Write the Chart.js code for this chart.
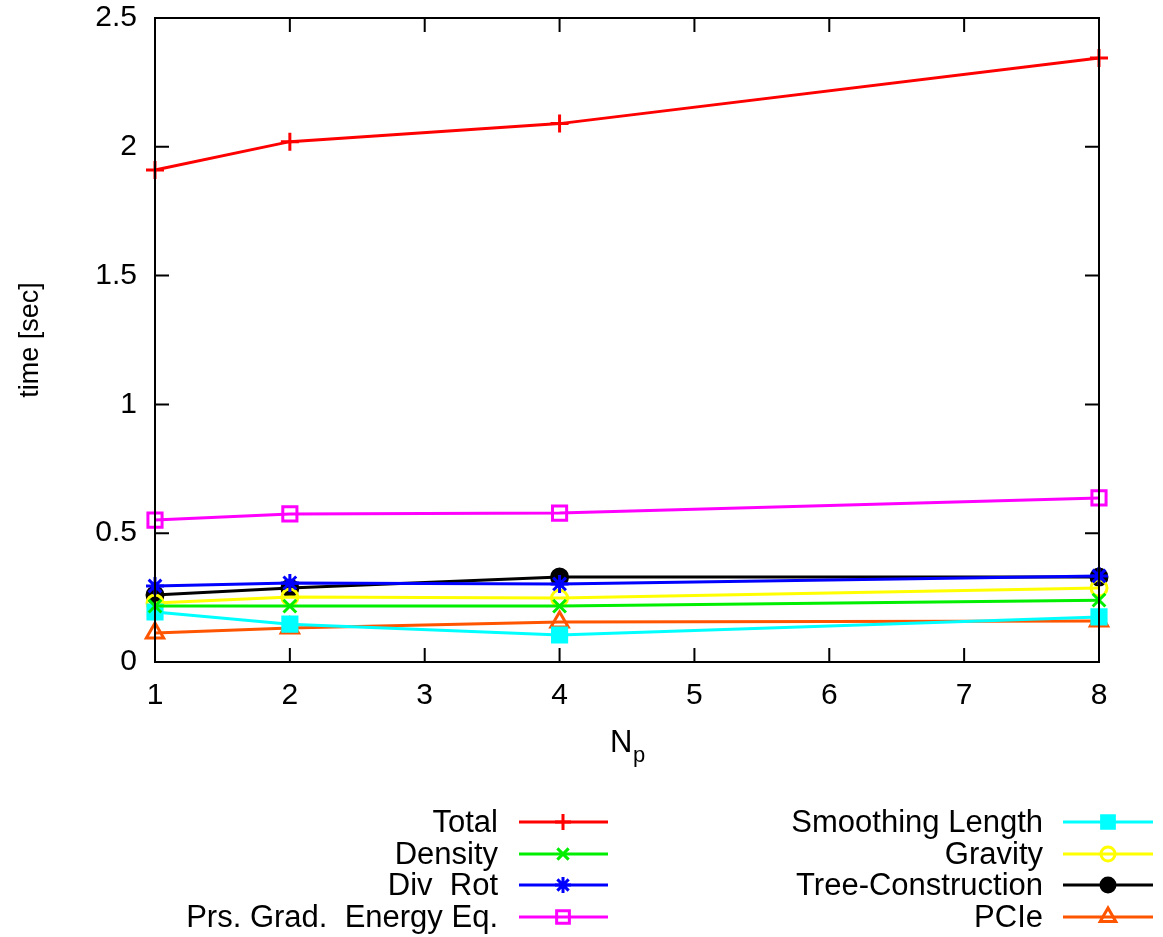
<!DOCTYPE html>
<html>
<head>
<meta charset="utf-8">
<script src="https://cdn.jsdelivr.net/npm/chart.js@4.4.1/dist/chart.umd.min.js"></script>
<style>
  html, body { margin: 0; padding: 0; background: #fff; }
  #wrap { width: 1163px; height: 937px; }
</style>
</head>
<body>
<div id="wrap"><canvas id="chart" width="1163" height="937"></canvas></div>
<script>
// data
const procs = [1, 2, 4, 8];
const xTicks = [1, 2, 3, 4, 5, 6, 7, 8];
const yTicks = [0, 0.5, 1, 1.5, 2, 2.5];

const total      = [1.91, 2.02, 2.09, 2.345];
const density    = [0.217, 0.217, 0.217, 0.24];
const divRot     = [0.295, 0.307, 0.303, 0.334];
const prsGrad    = [0.551, 0.575, 0.578, 0.637];
const smoothing  = [0.194, 0.147, 0.105, 0.175];
const gravity    = [0.229, 0.252, 0.248, 0.287];
const treeBuild  = [0.26, 0.287, 0.33, 0.33];
const pcie       = [0.113, 0.132, 0.155, 0.159];

const FONT = "'Liberation Sans', Arial, Helvetica, sans-serif";

function series(label, values, color, style, fill, radius) {
  return {
    label: label,
    data: procs.map((p, i) => ({ x: p, y: values[i] })),
    borderColor: color,
    backgroundColor: fill,
    borderWidth: 3,
    pointStyle: style,
    pointRadius: radius,
    pointBorderWidth: 3,
    pointBorderColor: color,
    pointBackgroundColor: fill,
    tension: 0
  };
}

const datasets = [
  series("Total", total, "#ff0000", "cross", "#ff0000", 9),
  series("Density", density, "#00ee00", "crossRot", "#00ee00", 9),
  series("Div  Rot", divRot, "#0000ff", "star", "#0000ff", 9),
  series("Prs. Grad.  Energy Eq.", prsGrad, "#ff00ff", "rect", "rgba(0,0,0,0)", 10),
  series("Smoothing Length", smoothing, "#00ffff", "rect", "#00ffff", 10),
  series("Gravity", gravity, "#ffff00", "circle", "rgba(0,0,0,0)", 8),
  series("Tree-Construction", treeBuild, "#000000", "circle", "#000000", 8),
  series("PCIe", pcie, "#ff5500", "triangle", "rgba(0,0,0,0)", 10)
];

// frame, inward ticks on all four sides, N_p label and legend
const decor = {
  id: "decor",
  afterDraw(chart) {
    const ctx = chart.ctx;
    const a = chart.chartArea;
    const xs = chart.scales.x, ys = chart.scales.y;
    ctx.save();
    ctx.strokeStyle = "#000";
    ctx.lineWidth = 2;
    ctx.strokeRect(a.left, a.top, a.right - a.left, a.bottom - a.top);
    ctx.beginPath();
    xTicks.forEach(v => {
      const px = xs.getPixelForValue(v);
      ctx.moveTo(px, a.bottom); ctx.lineTo(px, a.bottom - 14);
      ctx.moveTo(px, a.top); ctx.lineTo(px, a.top + 14);
    });
    yTicks.forEach(v => {
      const py = ys.getPixelForValue(v);
      ctx.moveTo(a.left, py); ctx.lineTo(a.left + 14, py);
      ctx.moveTo(a.right, py); ctx.lineTo(a.right - 14, py);
    });
    ctx.stroke();

    // x title with subscript
    ctx.fillStyle = "#000";
    ctx.textBaseline = "alphabetic";
    ctx.textAlign = "left";
    ctx.font = "31px " + FONT;
    ctx.fillText("N", 610, 752);
    ctx.font = "22px " + FONT;
    ctx.fillText("p", 633, 762);

    // legend, two columns, text right aligned before the sample
    const cols = [
      { textRight: 498, lineL: 519, lineR: 608, mark: 563 },
      { textRight: 1043, lineL: 1063, lineR: 1153, mark: 1108 }
    ];
    const rows = [822, 854, 885, 917];
    ctx.font = "31px " + FONT;
    ctx.textAlign = "right";
    ctx.textBaseline = "middle";
    chart.data.datasets.forEach((ds, i) => {
      const c = cols[Math.floor(i / 4)];
      const y = rows[i % 4];
      ctx.fillStyle = "#000";
      ctx.fillText(ds.label, c.textRight, y + 1);
      ctx.strokeStyle = ds.borderColor;
      ctx.lineWidth = 3;
      ctx.beginPath();
      ctx.moveTo(c.lineL, y); ctx.lineTo(c.lineR, y);
      ctx.stroke();
      ctx.fillStyle = ds.pointBackgroundColor;
      ctx.strokeStyle = ds.borderColor;
      ctx.lineWidth = 3;
      Chart.helpers.drawPoint(ctx, {
        pointStyle: ds.pointStyle, radius: ds.pointRadius - 1, borderWidth: 3, rotation: 0
      }, c.mark, y);
    });
    ctx.restore();
  }
};

new Chart(document.getElementById("chart").getContext("2d"), {
  type: "line",
  data: { datasets: datasets },
  options: {
    responsive: false,
    animation: false,
    clip: false,
    layout: { padding: { left: 0, right: 64, top: 18, bottom: 175 } },
    plugins: { legend: { display: false }, tooltip: { enabled: false } },
    scales: {
      x: {
        type: "linear",
        min: 1, max: 8,
        afterFit: (s) => { s.height = 100; s.paddingLeft = 0; s.paddingRight = 0; },
        afterBuildTicks: (s) => { s.ticks = xTicks.map(v => ({ value: v })); },
        grid: { display: false, drawTicks: false },
        border: { display: false },
        ticks: { color: "#000", padding: 16, font: { family: FONT, size: 30 } }
      },
      y: {
        min: 0, max: 2.5,
        afterFit: (s) => { s.width = 155; s.paddingTop = 0; s.paddingBottom = 0; },
        afterBuildTicks: (s) => { s.ticks = yTicks.map(v => ({ value: v })); },
        grid: { display: false, drawTicks: false },
        border: { display: false },
        ticks: { color: "#000", padding: 18, font: { family: FONT, size: 30 },
                 callback: (v) => String(v) },
        title: { display: true, text: "time [sec]", color: "#000", padding: { top: 14, bottom: 0 },
                 font: { family: FONT, size: 27 } }
      }
    }
  },
  plugins: [decor]
});
</script>
</body>
</html>
